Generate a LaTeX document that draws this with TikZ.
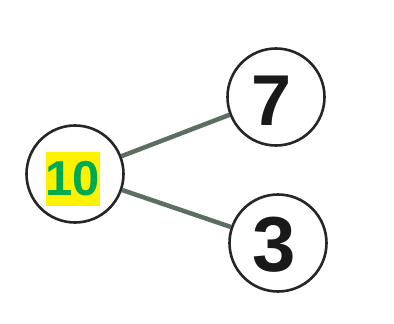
\documentclass[tikz,border=0pt]{standalone}
\usepackage{fontspec}
\setmainfont{Liberation Sans}
\definecolor{linkgray}{RGB}{92,110,98}
\begin{document}
\begin{tikzpicture}[x=1pt,y=-1pt,
  numcircle/.style={circle,draw=black!85,line width=2.6pt,minimum size=97pt,inner sep=0pt},
  link/.style={draw=linkgray,line width=4.5pt},
  hand/.style={font=\fontsize{72}{72}\selectfont\bfseries,text=black!90}]
\useasboundingbox[fill=white] (0,0) rectangle (394,324);
\node[numcircle] (a) at (75,174) {};
\node[numcircle] (b) at (276,97) {};
\node[numcircle] (c) at (278,243) {};
\draw[link] (a) -- (b);
\draw[link] (a) -- (c);
\node[fill=yellow,minimum width=54pt,minimum height=54pt,inner sep=0pt,
  font=\fontsize{49}{49}\selectfont\bfseries,text={rgb,255:red,0;green,170;blue,80}] (t) at (73,179) {10};
\node[hand] (s) at (272,101) {7};
\node[hand,font=\fontsize{78}{78}\selectfont\bfseries] (h) at (274,245) {3};
\end{tikzpicture}
\end{document}
